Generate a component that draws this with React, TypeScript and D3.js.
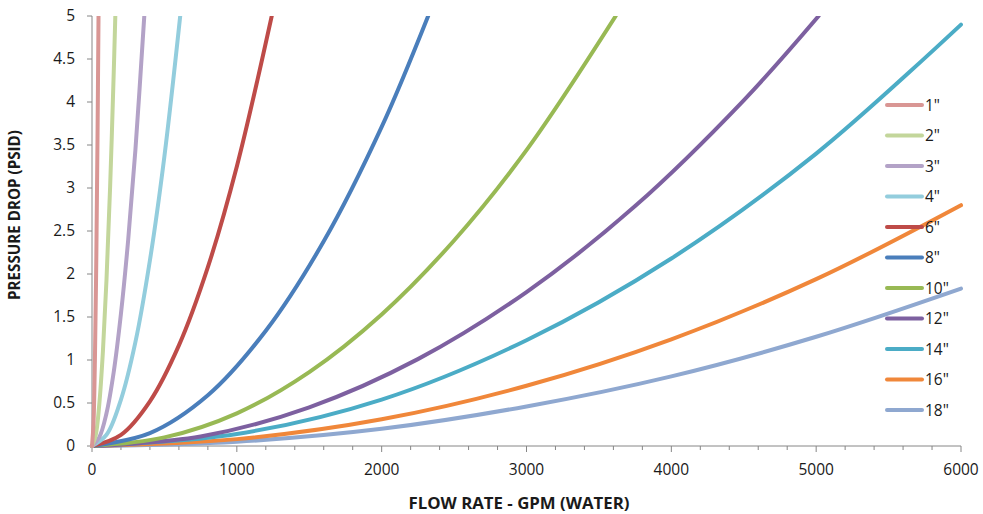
import React, { useRef, useEffect } from "react";
import * as d3 from "d3";

// pipe sizes and flow/pressure points
const sizes = ['1"', '2"', '3"', '4"', '6"', '8"', '10"', '12"', '14"', '16"', '18"'];
const colors = ["#D99694", "#C3D69B", "#B3A2C7", "#93CDDD", "#BE4B48", "#4A7EBB", "#98B954", "#7D60A0", "#4BACC6", "#F0873A", "#8FA8D0"];

const flow1 = [0, 10, 20, 30, 38, 45];
const drop1 = [0, 0.25, 0.99, 2.22, 3.57, 5.0];
const flow2 = [0, 25, 50, 75, 100, 125, 150, 161];
const drop2 = [0, 0.12, 0.48, 1.09, 1.93, 3.01, 4.34, 5.0];
const flow3 = [0, 50, 100, 150, 200, 250, 300, 361];
const drop3 = [0, 0.1, 0.38, 0.86, 1.54, 2.4, 3.45, 5.0];
const flow4 = [0, 100, 200, 300, 400, 500, 609];
const drop4 = [0, 0.13, 0.54, 1.21, 2.16, 3.37, 5.0];
const flow6 = [0, 200, 400, 600, 800, 1000, 1241];
const drop6 = [0, 0.13, 0.52, 1.17, 2.08, 3.25, 5.0];
const flow8 = [0, 400, 800, 1200, 1600, 2000, 2321];
const drop8 = [0, 0.15, 0.59, 1.34, 2.38, 3.71, 5.0];
const flow10 = [0, 500, 1000, 1500, 2000, 2500, 3000, 3616];
const drop10 = [0, 0.1, 0.38, 0.86, 1.53, 2.39, 3.44, 5.0];
const flow12 = [0, 750, 1500, 2250, 3000, 3750, 4500, 5017];
const drop12 = [0, 0.11, 0.45, 1.01, 1.79, 2.79, 4.02, 5.0];
const flow14 = [0, 1000, 2000, 3000, 4000, 5000, 6000];
const drop14 = [0, 0.14, 0.54, 1.23, 2.18, 3.4, 4.9];
const flow16 = [0, 1000, 2000, 3000, 4000, 5000, 6000];
const drop16 = [0, 0.08, 0.31, 0.7, 1.24, 1.94, 2.8];
const flow18 = [0, 1000, 2000, 3000, 4000, 5000, 6000];
const drop18 = [0, 0.05, 0.2, 0.46, 0.81, 1.27, 1.83];

const flows = [flow1, flow2, flow3, flow4, flow6, flow8, flow10, flow12, flow14, flow16, flow18];
const drops = [drop1, drop2, drop3, drop4, drop6, drop8, drop10, drop12, drop14, drop16, drop18];

const xTicks = [0, 1000, 2000, 3000, 4000, 5000, 6000];
const yTicks = [0, 0.5, 1, 1.5, 2, 2.5, 3, 3.5, 4, 4.5, 5];

const W = 983;
const H = 514;
const FONT = "'Open Sans', sans-serif";

const App: React.FC = () => {
  const svgRef = useRef<SVGSVGElement | null>(null);

  useEffect(() => {
    if (!svgRef.current) return;
    const svg = d3.select(svgRef.current);
    svg.selectAll("*").remove();

    const x = d3.scaleLinear().domain([0, 6000]).range([92, 961]);
    const y = d3.scaleLinear().domain([0, 5]).range([446, 16]);

    svg.append("defs").append("clipPath").attr("id", "plot")
      .append("rect")
      .attr("x", 90).attr("y", 16)
      .attr("width", 875).attr("height", 432);

    // axes
    const axisColor = "#868686";
    const xAxis = svg.append("g");
    xAxis.append("line")
      .attr("x1", x(0)).attr("x2", x(6000))
      .attr("y1", y(0)).attr("y2", y(0))
      .attr("stroke", axisColor);
    xAxis.selectAll("line.minor")
      .data(d3.range(0, 6001, 200))
      .enter().append("line")
      .attr("class", "minor")
      .attr("x1", d => x(d)).attr("x2", d => x(d))
      .attr("y1", y(0)).attr("y2", d => y(0) + (d % 1000 === 0 ? 6 : 4))
      .attr("stroke", axisColor);
    xAxis.selectAll("text")
      .data(xTicks)
      .enter().append("text")
      .attr("x", d => x(d))
      .attr("y", 475)
      .attr("text-anchor", "middle")
      .style("font", `15.5px ${FONT}`)
      .attr("fill", "#1a1a1a")
      .text(d => d);

    const yAxis = svg.append("g");
    yAxis.append("line")
      .attr("x1", x(0)).attr("x2", x(0))
      .attr("y1", y(0)).attr("y2", y(5))
      .attr("stroke", axisColor);
    yAxis.selectAll("line.tick")
      .data(yTicks)
      .enter().append("line")
      .attr("class", "tick")
      .attr("x1", x(0) - 5).attr("x2", x(0))
      .attr("y1", d => y(d)).attr("y2", d => y(d))
      .attr("stroke", axisColor);
    yAxis.selectAll("text")
      .data(yTicks)
      .enter().append("text")
      .attr("x", 75)
      .attr("y", d => y(d) + 5)
      .attr("text-anchor", "end")
      .style("font", `15.5px ${FONT}`)
      .attr("fill", "#1a1a1a")
      .text(d => d);

    // titles
    svg.append("text")
      .attr("x", 519).attr("y", 509)
      .attr("text-anchor", "middle")
      .attr("textLength", 221)
      .attr("lengthAdjust", "spacingAndGlyphs")
      .style("font", `bold 16px ${FONT}`)
      .attr("fill", "#1a1a1a")
      .text("FLOW RATE - GPM (WATER)");
    svg.append("text")
      .attr("transform", "translate(20,215) rotate(-90)")
      .attr("text-anchor", "middle")
      .attr("textLength", 170)
      .attr("lengthAdjust", "spacingAndGlyphs")
      .style("font", `bold 15.5px ${FONT}`)
      .attr("fill", "#1a1a1a")
      .text("PRESSURE DROP (PSID)");

    // curves, drawn from the largest pipe so small ones sit on top
    const line = d3.line<[number, number]>()
      .x(d => x(d[0]))
      .y(d => y(d[1]))
      .curve(d3.curveCatmullRom);

    const series = sizes.map((s, i) => ({
      name: s,
      color: colors[i],
      points: flows[i].map((q, j) => [q, drops[i][j]] as [number, number]),
    }));

    svg.append("g")
      .attr("clip-path", "url(#plot)")
      .selectAll("path")
      .data(series.slice().reverse())
      .enter().append("path")
      .attr("d", d => line(d.points))
      .attr("fill", "none")
      .attr("stroke", d => d.color)
      .attr("stroke-width", 4)
      .attr("stroke-linecap", "round");

    // legend
    const legend = svg.append("g")
      .selectAll("g")
      .data(series)
      .enter().append("g")
      .attr("transform", (d, i) => `translate(0,${105 + i * 30.5})`);
    legend.append("line")
      .attr("x1", 887).attr("x2", 922)
      .attr("stroke", d => d.color)
      .attr("stroke-width", 4)
      .attr("stroke-linecap", "round");
    legend.append("text")
      .attr("x", 925).attr("y", 5.5)
      .style("font", `15.5px ${FONT}`)
      .attr("fill", "#1a1a1a")
      .text(d => d.name);
  }, []);

  return (
    <svg
      ref={svgRef}
      width={W}
      height={H}
      style={{ position: "absolute", left: 0, top: 0, background: "#fff" }}
    ></svg>
  );
};

export default App;
